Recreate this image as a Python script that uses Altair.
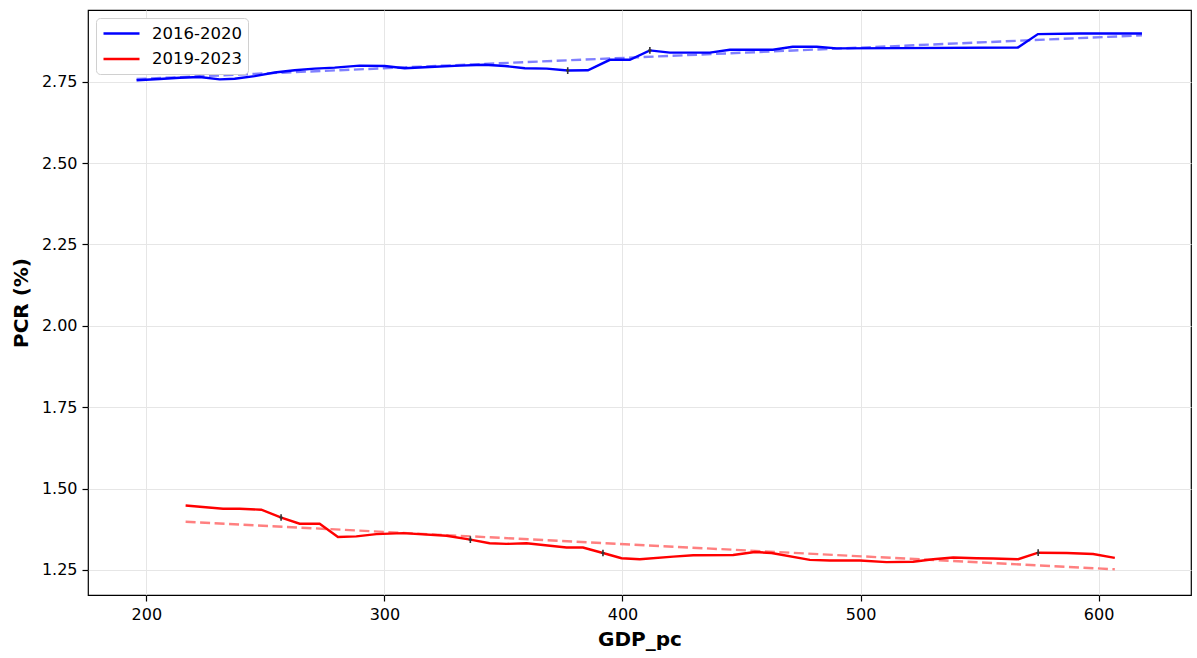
import altair as alt
import pandas as pd

series = ["2016-2020", "2019-2023"]
colors = ["#0000ff", "#ff0000"]
trend_colors = ["#8080ff", "#ff8080"]

blue_x = [195.9, 205.6, 214.0, 222.4, 230.8, 237.1, 245.5, 253.9, 262.3, 270.7,
          279.1, 289.6, 300.1, 308.5, 319.0, 331.6, 342.1, 350.6, 359.0, 368.2,
          377.0, 385.5, 394.7, 403.1, 411.5, 419.9, 436.7, 445.1, 463.2, 471.5,
          481.6, 490.0, 516.5, 566.1, 574.5, 592.2, 618.2]
blue_y = [2.754, 2.758, 2.762, 2.764, 2.757, 2.759, 2.767, 2.778, 2.785, 2.790,
          2.793, 2.799, 2.798, 2.791, 2.795, 2.799, 2.802, 2.798, 2.791, 2.790,
          2.784, 2.785, 2.817, 2.817, 2.846, 2.839, 2.839, 2.848, 2.848, 2.857,
          2.857, 2.852, 2.853, 2.855, 2.896, 2.898, 2.898]

red_x = [216.5, 232.2, 239.2, 248.3, 256.7, 264.4, 272.8, 280.5, 288.2, 296.6,
         307.8, 326.1, 336.1, 344.2, 351.3, 359.7, 376.5, 383.4, 391.8, 399.6,
         407.3, 421.3, 429.7, 446.5, 455.6, 462.6, 478.7, 487.1, 499.7, 510.9,
         522.1, 530.5, 538.9, 548.7, 555.7, 566.2, 574.6, 586.6, 597.7, 606.8]
red_y = [1.448, 1.438, 1.438, 1.435, 1.411, 1.392, 1.392, 1.351, 1.353, 1.360,
         1.363, 1.355, 1.343, 1.332, 1.330, 1.332, 1.319, 1.319, 1.302, 1.286,
         1.283, 1.291, 1.295, 1.296, 1.305, 1.302, 1.281, 1.279, 1.279, 1.274,
         1.275, 1.283, 1.288, 1.286, 1.285, 1.283, 1.303, 1.302, 1.299, 1.287]

trend_blue_x = [195.9, 618.2]
trend_blue_y = [2.758, 2.892]
trend_red_x = [216.5, 606.8]
trend_red_y = [1.398, 1.252]

marker_x = [377.0, 411.5, 256.6, 336.1, 391.8, 574.6]
marker_y = [2.784, 2.846, 1.411, 1.343, 1.302, 1.303]

x_ticks = [200, 300, 400, 500, 600]
y_ticks = [1.25, 1.50, 1.75, 2.00, 2.25, 2.50, 2.75]

lines_df = pd.concat([
    pd.DataFrame({"x": blue_x, "y": blue_y, "series": series[0]}),
    pd.DataFrame({"x": red_x, "y": red_y, "series": series[1]}),
])
trend_df = pd.concat([
    pd.DataFrame({"x": trend_blue_x, "y": trend_blue_y, "series": series[0], "col": trend_colors[0]}),
    pd.DataFrame({"x": trend_red_x, "y": trend_red_y, "series": series[1], "col": trend_colors[1]}),
])
marker_df = pd.DataFrame({"x": marker_x, "y": marker_y})

x_scale = alt.Scale(domain=[175.5, 638.8], nice=False, zero=False)
y_scale = alt.Scale(domain=[1.173, 2.970], nice=False, zero=False)

x_enc = alt.X("x:Q", scale=x_scale,
              axis=alt.Axis(values=x_ticks, title="GDP_pc", format="d", titlePadding=7))
y_enc = alt.Y("y:Q", scale=y_scale,
              axis=alt.Axis(values=y_ticks, title="PCR (%)", format=".2f", titlePadding=10))

trend = alt.Chart(trend_df).mark_line(strokeWidth=2.4, strokeDash=[10, 4.5]).encode(
    x=x_enc, y=y_enc,
    color=alt.Color("col:N", scale=None),
    detail="series:N",
)

lines = alt.Chart(lines_df).mark_line(strokeWidth=2.4).encode(
    x=x_enc, y=y_enc,
    color=alt.Color(
        "series:N",
        scale=alt.Scale(domain=series, range=colors),
        legend=alt.Legend(
            title=None, orient="none", legendX=8, legendY=8,
            symbolType="M-1,0L3.5,0", symbolSize=256, symbolStrokeWidth=2.4,
            symbolOpacity=1,
            labelFont="DejaVu Sans", labelFontSize=16.5, labelColor="black",
            labelOffset=31, strokeColor="#d0d0d0", fillColor="white",
            cornerRadius=4, padding=6, rowPadding=7.5,
        ),
    ),
)

markers = alt.Chart(marker_df).mark_point(
    shape="M0,-1L0,1M-0.5,0L0.5,0", filled=False, size=45,
    color="#333333", strokeWidth=1.6, opacity=1,
).encode(x=x_enc, y=y_enc)

chart = alt.layer(trend, lines, markers).properties(
    width=1103, height=585,
    padding={"left": 88, "top": 10, "right": 6, "bottom": 63},
    autosize=alt.AutoSizeParams(type="none"),
).configure_view(
    stroke="#000000", strokeWidth=1.2,
).configure_axis(
    labelFont="DejaVu Sans", labelFontSize=16, labelColor="black",
    tickColor="black", tickSize=6, tickWidth=1.2, labelPadding=5,
    domain=False, gridColor="#e6e6e6", gridWidth=1,
    titleFont="DejaVu Sans", titleFontSize=20, titleFontWeight="bold", titleColor="black",
)

chart.save("out.html", embed_options={"renderer": "svg", "actions": False})
